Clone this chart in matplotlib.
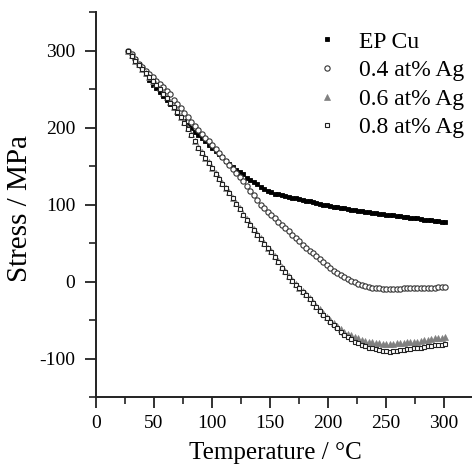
import matplotlib
matplotlib.use("Agg")
import matplotlib.pyplot as plt
from matplotlib.ticker import MultipleLocator

temperature = [28, 31, 34, 37, 40, 43, 46, 49, 52, 55, 58, 61, 64, 67, 70, 73, 76, 79, 82, 85,
               88, 91, 94, 97, 100, 103, 106, 109, 112, 115, 118, 121, 124, 127, 130, 133, 136, 139, 142, 145,
               148, 151, 154, 157, 160, 163, 166, 169, 172, 175, 178, 181, 184, 187, 190, 193, 196, 199, 202, 205,
               208, 211, 214, 217, 220, 223, 226, 229, 232, 235, 238, 241, 244, 247, 250, 253, 256, 259, 262, 265,
               268, 271, 274, 277, 280, 283, 286, 289, 292, 295, 298, 301]

stress_ep_cu = [300, 294, 289, 283, 277, 270, 262, 255, 251, 246, 241, 236, 231, 225, 219, 214, 208, 203, 199, 194,
                190, 186, 182, 177, 174, 170, 166, 162, 157, 153, 149, 145, 142, 139, 135, 132, 129, 126, 123, 120,
                118, 116, 114, 113, 112, 111, 110, 109, 108, 107, 106, 105, 104, 103, 102, 101, 100, 99, 98, 97,
                96.5, 96, 95, 94, 93.5, 93, 92, 91, 90.5, 90, 89, 88.5, 88, 87.5, 87, 86.5, 86, 85.5, 85, 84,
                83.5, 83, 82.5, 82, 81, 80.5, 80, 79.5, 79, 78, 77.5, 77]

stress_04ag = [300, 295, 289, 283, 278, 273, 269, 265, 261, 257, 252, 248, 243, 236, 231, 225, 219, 213, 207, 202,
               197, 192, 187, 182, 177, 172, 167, 162, 157, 151, 146, 141, 136, 130, 124, 118, 112, 106, 100, 95,
               90, 86, 82, 77, 73, 69, 65, 61, 57, 52, 48, 44, 40, 37, 33, 29, 25, 21, 18, 14,
               11, 8, 6, 3, 1, -1, -3, -5, -6, -7, -8, -9, -9, -9.5, -9.5, -9.5, -9.5, -9.5, -9.5, -9,
               -9, -9, -9, -8.5, -8.5, -8.5, -8, -8, -8, -7.5, -7.5, -7]

stress_06ag = [300, 294, 287, 282, 276, 271, 266, 261, 256, 251, 245, 239, 233, 227, 221, 214, 207, 199, 191, 183,
               175, 168, 161, 155, 148, 141, 134, 128, 122, 116, 109, 102, 95, 88, 81, 75, 68, 62, 56, 50,
               44, 39, 33, 26, 19, 13, 7, 2, -3, -8, -12, -16, -22, -27, -32, -36, -41, -46, -50, -54,
               -58, -62, -65, -68, -70, -72, -74, -76, -77, -78, -79, -80, -80, -81, -81, -81, -81, -80, -80, -80,
               -79, -79, -78, -78, -77, -76, -76, -75, -74, -74, -73, -72]

stress_08ag = [299, 293, 287, 281, 276, 271, 265, 260, 255, 250, 244, 238, 232, 226, 220, 213, 206, 198, 190, 182,
               174, 167, 160, 154, 147, 140, 133, 127, 121, 115, 108, 101, 94, 87, 80, 74, 67, 61, 55, 49,
               43, 38, 32, 25, 18, 12, 6, 1, -4, -9, -13, -17, -23, -28, -33, -38, -43, -48, -52, -57,
               -61, -65, -69, -72, -75, -78, -80, -82, -84, -86, -87, -88, -89, -90, -90, -91, -90, -90, -89, -89,
               -88, -88, -87, -86, -86, -85, -84, -84, -83, -82, -82, -81]

labels = ["EP Cu", "0.4 at% Ag", "0.6 at% Ag", "0.8 at% Ag"]
x_ticks = [0, 50, 100, 150, 200, 250, 300]
y_ticks = [-100, 0, 100, 200, 300]

plt.rcParams['font.family'] = ['Liberation Serif', 'DejaVu Serif']
plt.rcParams['axes.unicode_minus'] = False

fig = plt.figure(figsize=(4.72, 4.67), dpi=100)
ax = fig.add_axes([96 / 472, 70 / 467, 1 - 96 / 472, (397 - 12) / 467])

ax.plot(temperature, stress_ep_cu, linestyle='none', marker='s', markersize=3.3,
        markerfacecolor='black', markeredgecolor='black', markeredgewidth=0.6, label=labels[0])
ax.plot(temperature, stress_04ag, linestyle='none', marker='o', markersize=3.8,
        markerfacecolor='white', markeredgecolor='#333333', markeredgewidth=0.8, label=labels[1])
ax.plot(temperature, stress_06ag, linestyle='none', marker='^', markersize=4.0,
        markerfacecolor='#808080', markeredgecolor='#808080', markeredgewidth=0.5, label=labels[2])
ax.plot(temperature, stress_08ag, linestyle='none', marker='s', markersize=3.5,
        markerfacecolor='white', markeredgecolor='#222222', markeredgewidth=0.8, label=labels[3])

ax.set_xlim(0, 324)
ax.set_ylim(-150, 350)
ax.set_xticks(x_ticks)
ax.set_yticks(y_ticks)
ax.xaxis.set_minor_locator(MultipleLocator(25))
ax.yaxis.set_minor_locator(MultipleLocator(50))

for s in ['top', 'right']:
    ax.spines[s].set_visible(False)
for s in ['left', 'bottom']:
    ax.spines[s].set_linewidth(1.4)
    ax.spines[s].set_color('#222222')

ax.tick_params(axis='both', which='major', direction='out', length=8, width=1.3,
               labelsize=14, color='#222222', pad=5)
ax.tick_params(axis='y', which='major', pad=7)
ax.tick_params(axis='both', which='minor', direction='out', length=5, width=1.2, color='#222222')

ax.set_xlabel("Temperature / °C", fontsize=18)
ax.set_ylabel("Stress / MPa", fontsize=21)
ax.xaxis.set_label_coords(0.478, -0.118)
ax.yaxis.set_label_coords(-0.168, 0.49)

leg = ax.legend(loc='upper left', bbox_to_anchor=(0.565, 0.975), frameon=False, fontsize=17,
                handlelength=0.8, handletextpad=0.95, labelspacing=0.3, borderaxespad=0.0,
                markerscale=1.0)

fig.savefig("out.png", dpi=100, facecolor='white')
